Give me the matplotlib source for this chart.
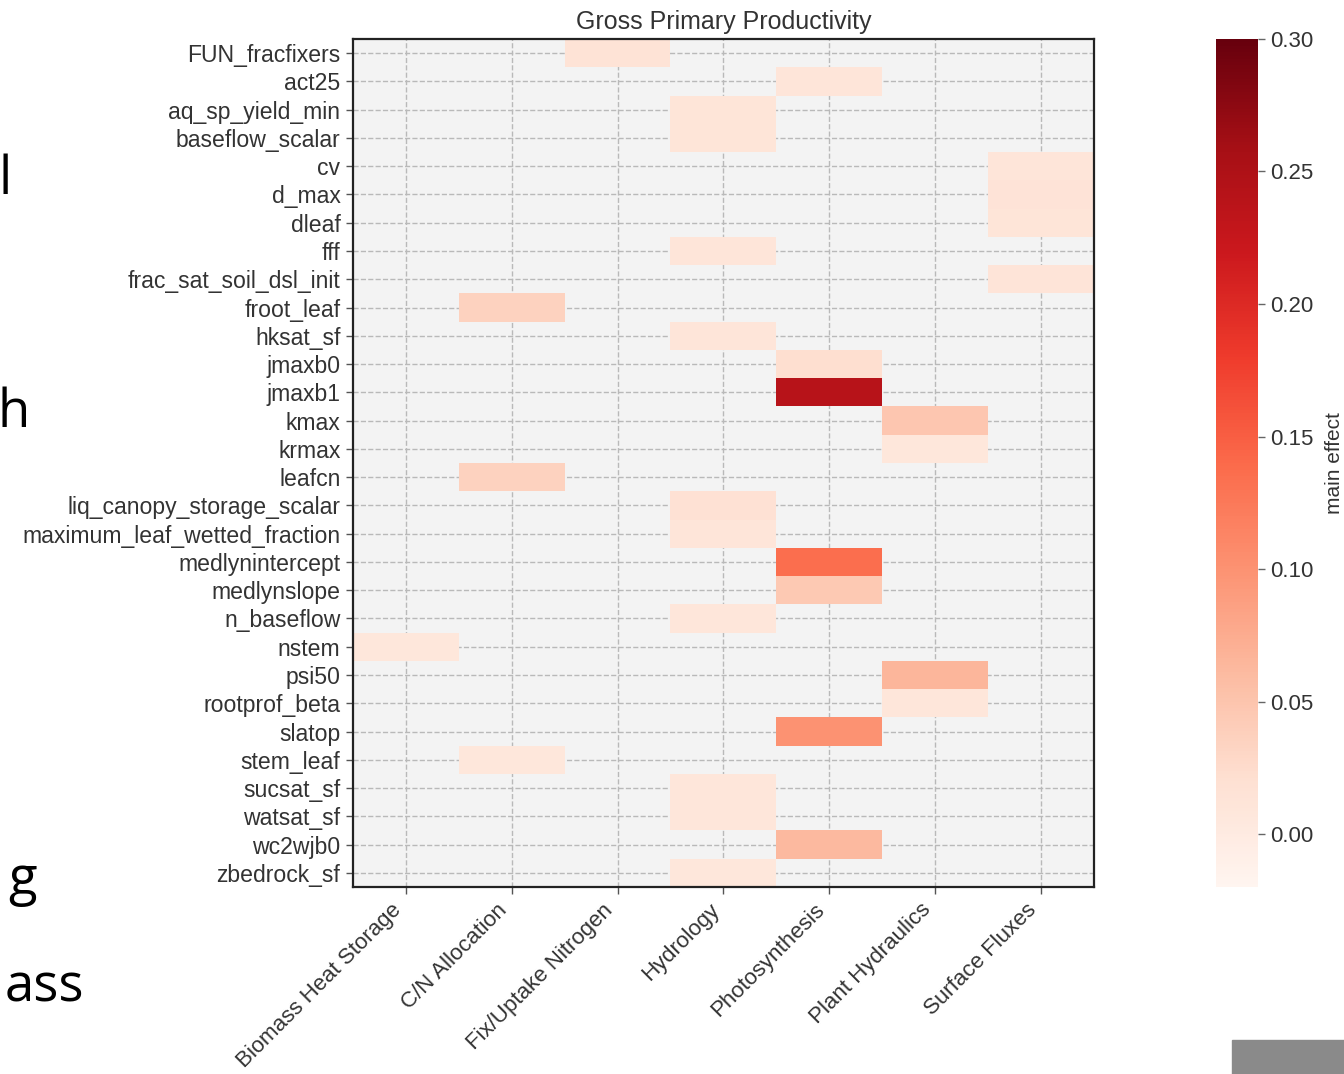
import numpy as np
import matplotlib
matplotlib.use("Agg")
import matplotlib.pyplot as plt
from matplotlib.patches import Rectangle

plt.rcParams["font.family"] = ["Liberation Sans", "DejaVu Sans"]

# Process groups (heatmap columns)
groups = ["Biomass Heat Storage", "C/N Allocation", "Fix/Uptake Nitrogen",
          "Hydrology", "Photosynthesis", "Plant Hydraulics", "Surface Fluxes"]

# Parameters (heatmap rows), the group each belongs to, and its main effect
params = ["FUN_fracfixers", "act25", "aq_sp_yield_min", "baseflow_scalar", "cv",
          "d_max", "dleaf", "fff", "frac_sat_soil_dsl_init", "froot_leaf",
          "hksat_sf", "jmaxb0", "jmaxb1", "kmax", "krmax", "leafcn",
          "liq_canopy_storage_scalar", "maximum_leaf_wetted_fraction",
          "medlynintercept", "medlynslope", "n_baseflow", "nstem", "psi50",
          "rootprof_beta", "slatop", "stem_leaf", "sucsat_sf", "watsat_sf",
          "wc2wjb0", "zbedrock_sf"]
param_group = ["Fix/Uptake Nitrogen", "Photosynthesis", "Hydrology", "Hydrology",
               "Surface Fluxes", "Surface Fluxes", "Surface Fluxes", "Hydrology",
               "Surface Fluxes", "C/N Allocation", "Hydrology", "Photosynthesis",
               "Photosynthesis", "Plant Hydraulics", "Plant Hydraulics",
               "C/N Allocation", "Hydrology", "Hydrology", "Photosynthesis",
               "Photosynthesis", "Hydrology", "Biomass Heat Storage",
               "Plant Hydraulics", "Plant Hydraulics", "Photosynthesis",
               "C/N Allocation", "Hydrology", "Hydrology", "Photosynthesis",
               "Hydrology"]
main_effect = [0.015, 0.010, 0.012, 0.012, 0.011,
               0.014, 0.012, 0.010, 0.013, 0.035,
               0.010, 0.022, 0.240, 0.048, 0.008, 0.035,
               0.018, 0.011,
               0.135, 0.045, 0.009, 0.008, 0.065,
               0.009, 0.100, 0.008, 0.009, 0.009,
               0.062, 0.008]

# Build the parameter x group matrix; empty cells stay NaN
mat = np.full((len(params), len(groups)), np.nan)
for i, (g, v) in enumerate(zip(param_group, main_effect)):
    mat[i, groups.index(g)] = v
mat = np.ma.masked_invalid(mat)

fig = plt.figure(figsize=(13.44, 10.74), dpi=100)
ax = fig.add_axes([0.2626, 0.1741, 0.5513, 0.7896])
ax.set_facecolor("#f3f3f3")
ax.set_axisbelow(True)
ax.grid(True, linestyle="--", color="#b9b9b9", linewidth=1.0)

xe = np.arange(len(groups) + 1) - 0.5
ye = np.arange(len(params) + 1) - 0.5
mesh = ax.pcolormesh(xe, ye, mat, cmap="Reds", vmin=-0.02, vmax=0.30)
ax.set_xlim(-0.5, len(groups) - 0.5)
ax.set_ylim(len(params) - 0.5, -0.5)

ax.set_xticks(np.arange(len(groups)))
ax.set_xticklabels(groups, rotation=45, ha="right", fontsize=16, color="#333333")
ax.set_yticks(np.arange(len(params)))
ax.set_yticklabels(params, fontsize=16.6, color="#333333")
ax.tick_params(axis="both", length=5, width=1, color="#555555", pad=4)
for s in ax.spines.values():
    s.set_color("#222222")
    s.set_linewidth(1.6)
ax.set_title("Gross Primary Productivity", fontsize=18, color="#333333", pad=7)

cax = fig.add_axes([0.9048, 0.1741, 0.0313, 0.7896])
cb = fig.colorbar(mesh, cax=cax, ticks=np.arange(0, 0.301, 0.05), format="%.2f")
cb.outline.set_visible(False)
cb.ax.tick_params(length=5, width=1, color="#666666", labelsize=16,
                  labelcolor="#333333", pad=4)
cb.set_label("main effect", fontsize=15, color="#333333", labelpad=8)

# Slide text fragments at the left edge and the grey bar at the bottom right
for txt, xr, yc in [("l", 12, 180), ("h", 30, 413), ("g", 37, 880), ("ass", 84, 988)]:
    fig.text(xr / 1344, 1 - yc / 1074, txt, ha="right", va="center",
             fontsize=38, color="black", family="Open Sans")
fig.patches.append(Rectangle((1232 / 1344, 0), 112 / 1344, 34 / 1074,
                             transform=fig.transFigure, color="#8a8a8a"))

fig.savefig("out.png", dpi=100, facecolor="white")
